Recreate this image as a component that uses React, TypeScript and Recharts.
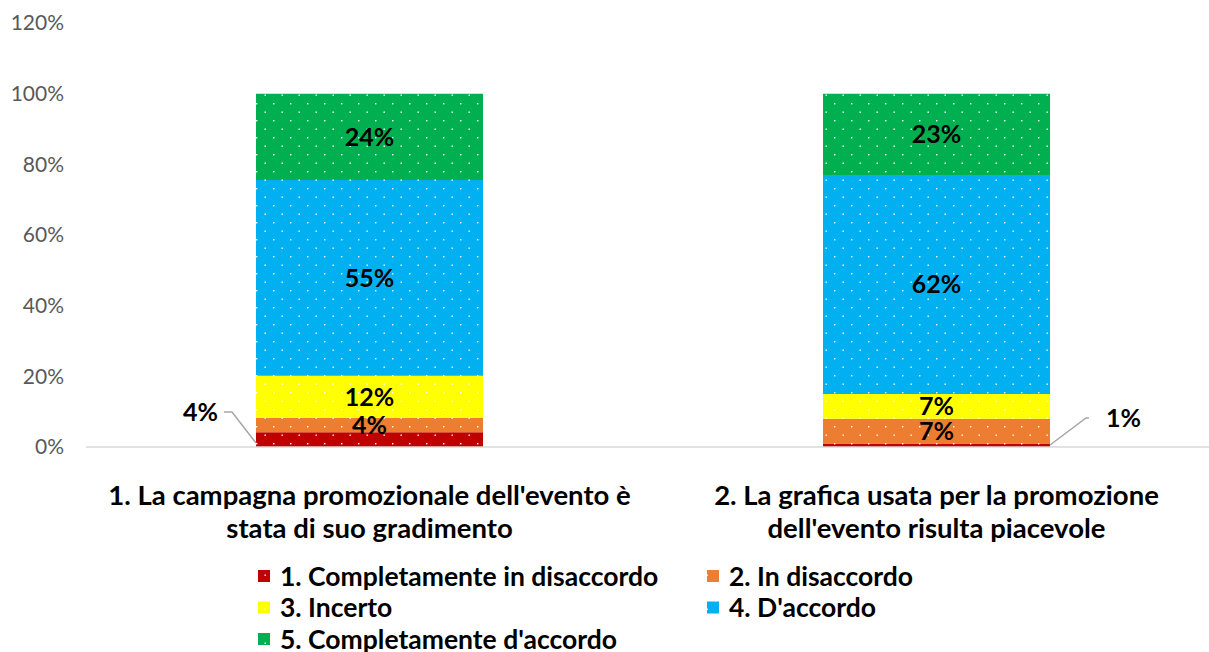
import { Bar, BarChart, LabelList, XAxis, YAxis } from "recharts";

const categories = [
  ["1. La campagna promozionale dell'evento è", "stata di suo gradimento"],
  ["2. La grafica usata per la promozione", "dell'evento risulta piacevole"],
];
const seriesNames = [
  "1. Completamente in disaccordo",
  "2. In disaccordo",
  "3. Incerto",
  "4. D'accordo",
  "5. Completamente d'accordo",
];
const seriesColors = ["#c00000", "#ed7d31", "#ffff00", "#00b0f0", "#00b050"];
const completamenteDisaccordo = [4.2, 1];
const inDisaccordo = [4.1, 7];
const incerto = [11.9, 7];
const daccordo = [55.4, 62];
const completamenteDaccordo = [24.4, 23];
const yTicks = [0, 20, 40, 60, 80, 100, 120];

const seriesValues = [completamenteDisaccordo, inDisaccordo, incerto, daccordo, completamenteDaccordo];
const keys = ["s1", "s2", "s3", "s4", "s5"];

const data = categories.map((lines, i) => {
  const row: Record<string, any> = { name: lines.join(" "), idx: i };
  keys.forEach((k, s) => (row[k] = seriesValues[s][i]));
  return row;
});

const FONT = "Lato, 'Open Sans', sans-serif";

const pct = (v: any) => `${Math.round(Number(v))}%`;

function InsideLabel(props: any) {
  const { x, y, width, height, value } = props;
  return (
    <text
      x={x + width / 2}
      y={y + height / 2}
      dy={9}
      textAnchor="middle"
      fontFamily={FONT}
      fontWeight={700}
      fontSize={25}
      fill="#000"
    >
      {pct(value)}
    </text>
  );
}

// first series: too thin, label sits outside with a leader line
function OutsideLabel(props: any) {
  const { x, y, width, height, value, index } = props;
  const baseY = y + height;
  if (index === 0) {
    const ax = x;
    const ay = baseY - 4;
    const ex = x - 24;
    const ey = baseY - 35;
    return (
      <g>
        <polyline points={`${ax},${ay} ${ex},${ey} ${ex - 8},${ey}`} fill="none" stroke="#a6a6a6" strokeWidth={1.5} />
        <text x={ex - 14} y={ey + 9} textAnchor="end" fontFamily={FONT} fontWeight={700} fontSize={25} fill="#000">
          {pct(value)}
        </text>
      </g>
    );
  }
  const ax = x + width;
  const ay = baseY - 2;
  const ex = ax + 36;
  const ey = baseY - 29;
  return (
    <g>
      <polyline points={`${ax},${ay} ${ex},${ey} ${ex + 3},${ey}`} fill="none" stroke="#a6a6a6" strokeWidth={1.5} />
      <text x={ex + 20} y={ey + 9} textAnchor="start" fontFamily={FONT} fontWeight={700} fontSize={25} fill="#000">
        {pct(value)}
      </text>
    </g>
  );
}

function CategoryTick(props: any) {
  const { x, y, payload } = props;
  const lines = categories[payload.index] ?? [String(payload.value)];
  return (
    <g>
      {lines.map((line, i) => (
        <text
          key={i}
          x={x}
          y={y + 50 + i * 33}
          textAnchor="middle"
          fontFamily={FONT}
          fontWeight={700}
          fontSize={27.5}
          fill="#000"
        >
          {line}
        </text>
      ))}
    </g>
  );
}

function LegendBox() {
  const cols = [258, 707];
  return (
    <svg width={1209} height={87} style={{ display: "block" }}>
      {seriesNames.map((name, i) => {
        const cx = cols[i % 2];
        const cy = 11 + Math.floor(i / 2) * 31.5;
        return (
          <g key={name}>
            <rect x={cx} y={cy - 6} width={12} height={12} fill={`url(#dots${i})`} />
            <text x={cx + 22} y={cy + 9.5} fontFamily={FONT} fontWeight={700} fontSize={26.5} fill="#000">
              {name}
            </text>
          </g>
        );
      })}
    </svg>
  );
}

export default function App() {
  return (
    <div style={{ position: "absolute", left: 0, top: 0, width: 1209, height: 652, overflow: "hidden", background: "#fff" }}>
      <BarChart
        width={1222}
        height={652}
        data={data}
        margin={{ top: 23, right: 2, left: 0, bottom: 115 }}
        barSize={227}
      >
        <defs>
          {seriesColors.map((c, i) => (
            <pattern key={c} id={`dots${i}`} width={17} height={17} patternUnits="userSpaceOnUse">
              <rect width={17} height={17} fill={c} />
              <rect x={1} y={1} width={1.4} height={1.4} fill="#fff" />
              <rect x={9.5} y={9.5} width={1.4} height={1.4} fill="#fff" />
            </pattern>
          ))}
        </defs>
        <XAxis
          dataKey="name"
          axisLine={{ stroke: "#d9d9d9", strokeWidth: 1.5 }}
          tickLine={false}
          tick={<CategoryTick />}
          height={90}
          interval={0}
        />
        <YAxis
          domain={[0, 120]}
          ticks={yTicks}
          tickFormatter={(v) => `${v}%`}
          axisLine={false}
          tickLine={false}
          tickSize={0}
          tickMargin={22}
          width={86}
          tick={{ fill: "#595959", fontSize: 21, fontFamily: FONT }}
        />
        {keys.map((k, i) => (
          <Bar key={k} dataKey={k} name={seriesNames[i]} stackId="a" fill={`url(#dots${i})`} isAnimationActive={false}>
            <LabelList dataKey={k} content={i === 0 ? <OutsideLabel /> : <InsideLabel />} />
          </Bar>
        ))}
      </BarChart>
      <div style={{ position: "absolute", left: 0, top: 565 }}>
        <LegendBox />
      </div>
    </div>
  );
}
